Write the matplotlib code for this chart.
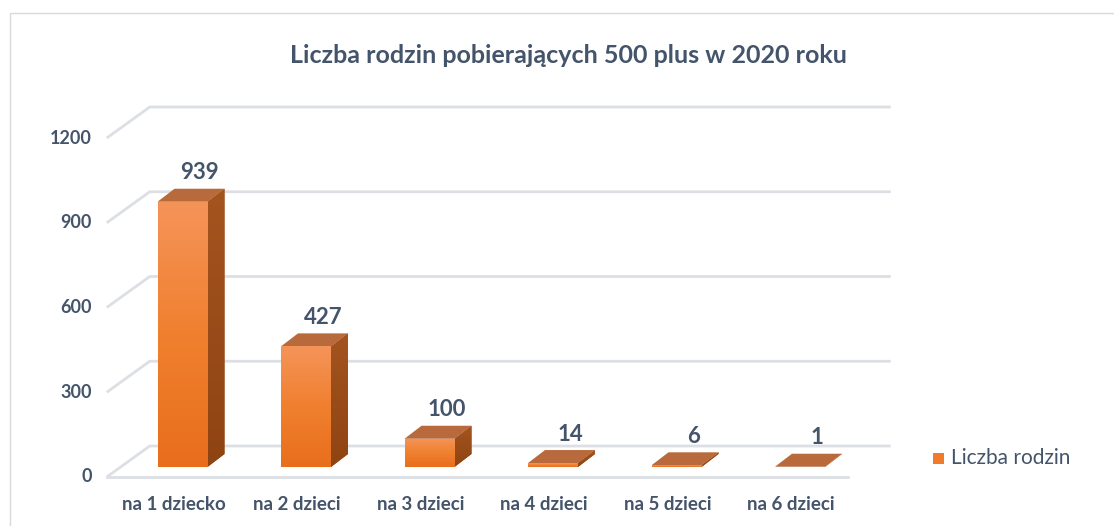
import numpy as np
import matplotlib
matplotlib.use("Agg")
import matplotlib.pyplot as plt
from matplotlib.patches import Polygon, Rectangle
from matplotlib.colors import LinearSegmentedColormap

title = "Liczba rodzin pobierających 500 plus w 2020 roku"
categories = ["na 1 dziecko", "na 2 dzieci", "na 3 dzieci", "na 4 dzieci", "na 5 dzieci", "na 6 dzieci"]
values = [939, 427, 100, 14, 6, 1]
yticks = [0, 300, 600, 900, 1200]
legend_label = "Liczba rodzin"

W, H = 1114, 526
fig = plt.figure(figsize=(W / 100, H / 100), dpi=100)
ax = fig.add_axes([0, 0, 1, 1])
ax.axis("off")

# scales (pixels per data unit)
SX = 123.5          # px per category
SY = 0.2825         # px per value unit
X0 = 182.5          # pixel x of category 0 (front of bars)
Y0 = H - 467        # mpl pixel y of value 0 (front of bars)
XL = (-X0 / SX, (W - X0) / SX)
YL = (-Y0 / SY, (H - Y0) / SY)
ax.set_xlim(*XL)
ax.set_ylim(*YL)

PX = 1 / SX
PY = 1 / SY

def off(x, y, dx, dy):
    return (x + dx * PX, y + dy * PY)

TXT = "#44546a"
GRID = "#dcdfe4"
FONT = "Lato"

# outer border
bx0, by0 = XL[0] + 10 * PX, (H - 13 - Y0) / SY
ax.plot([bx0, bx0, XL[1] + 20 * PX], [YL[0] - 20 * PY, by0, by0], color="#d9d9d9", lw=1.0,
        solid_capstyle="butt", zorder=1)

# walls / gridlines
left = -0.5
right = len(categories) - 0.5
front_d = (-14, -10)
back_d = (29, 21)
for g in yticks:
    fx, fy = off(left, g, *front_d)
    bx, by = off(left, g, *back_d)
    rx, ry = off(right, g, *back_d)
    ax.plot([fx, bx, rx], [fy, by, ry], color=GRID, lw=2.0, zorder=1, solid_capstyle="butt")
    ax.text(fx - 15 * PX, fy, str(g), ha="right", va="center", fontsize=13, fontweight="bold",
            color=TXT, family=FONT)
# floor front edge
fx, fy = off(left, 0, *front_d)
fx2, fy2 = off(right, 0, *front_d)
ax.plot([fx, fx2], [fy, fy2], color=GRID, lw=2.0, zorder=1)

# bars
bw = 50 * PX
dep = (17, 13)
front_cmap = LinearSegmentedColormap.from_list("f", ["#e86e1c", "#f0802f", "#f59459"])
side_cmap = LinearSegmentedColormap.from_list("s", ["#8e4412", "#a4541f"])
grad = np.linspace(0, 1, 256).reshape(-1, 1)
for i, v in enumerate(values):
    x0, x1 = i - bw / 2, i + bw / 2
    # side face
    side = Polygon([(x1, 0), off(x1, 0, *dep), off(x1, v, *dep), (x1, v)], closed=True,
                   facecolor="#9a4d1b", edgecolor="none", zorder=3)
    ax.add_patch(side)
    im = ax.imshow(grad, cmap=side_cmap, origin="lower", aspect="auto",
                   extent=(x1, x1 + dep[0] * PX, 0, v + dep[1] * PY), zorder=3.1)
    im.set_clip_path(side)
    # top face
    top = Polygon([(x0, v), (x1, v), off(x1, v, *dep), off(x0, v, *dep)], closed=True,
                  facecolor="#b96a3c", edgecolor="none", zorder=3.2)
    ax.add_patch(top)
    # front face
    front = Rectangle((x0, 0), bw, v, facecolor="#f0802f", edgecolor="none", zorder=3.3)
    ax.add_patch(front)
    im = ax.imshow(grad, cmap=front_cmap, origin="lower", aspect="auto",
                   extent=(x0, x1, 0, max(v, 1e-6)), zorder=3.4)
    im.set_clip_path(front)
    # value label
    lx, ly = off(i, v, 17, 13 + 16)
    ax.text(lx, ly, str(v), ha="center", va="center", fontsize=16, fontweight="bold",
            color=TXT, family=FONT, zorder=5)
    # category label
    cx, cy = off(i, 0, -9, -38)
    ax.text(cx, cy, categories[i], ha="center", va="center", fontsize=13.5, fontweight="bold",
            color=TXT, family=FONT)

ax.set_xlim(*XL)
ax.set_ylim(*YL)

# title
ax.text((568 - X0) / SX, (H - 55 - Y0) / SY, title, ha="center", va="center", fontsize=18,
        fontweight="bold", color=TXT, family=FONT)

# legend
lx0 = (933 - X0) / SX
ly0 = (H - 464 - Y0) / SY
ax.add_patch(Rectangle((lx0, ly0), 11 * PX, 11 * PY, facecolor="#f07b2c", edgecolor="none"))
ax.text((951 - X0) / SX, (H - 458 - Y0) / SY, legend_label, ha="left", va="center",
        fontsize=15, color=TXT, family=FONT)

fig.savefig("out.png", dpi=100)
